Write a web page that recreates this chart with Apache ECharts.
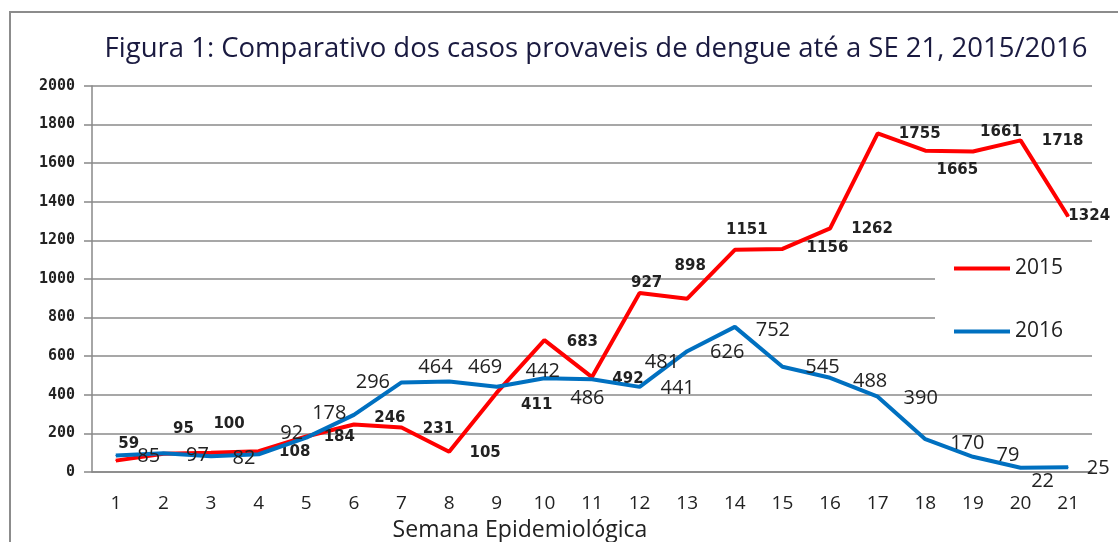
<!DOCTYPE html>
<html>
<head>
<meta charset="utf-8">
<script src="https://cdn.jsdelivr.net/npm/echarts@6/dist/echarts.min.js"></script>
<style>
html,body{margin:0;padding:0;background:#fff;}
#c{width:1118px;height:542px;}
</style>
</head>
<body>
<div id="c"></div>
<script>
const weeks = ['1','2','3','4','5','6','7','8','9','10','11','12','13','14','15','16','17','18','19','20','21'];
const cases2015 = [59,95,100,108,184,246,231,105,411,683,492,927,898,1151,1156,1262,1755,1665,1661,1718,1324];
const cases2016 = [85,97,82,92,178,296,464,469,442,486,481,441,626,752,545,488,390,170,79,22,25];
const yTicks = [0,200,400,600,800,1000,1200,1400,1600,1800,2000];
const titleText = 'Figura 1: Comparativo dos casos provaveis de dengue até a SE 21, 2015/2016';
const xName = 'Semana Epidemiológica';

// data-label nudges in pixels (style only, as in the original Excel chart)
const nudge2015 = [[13,-17],[20,-25],[18,-29],[36,1],[33,1],[36,-6],[37,2],[36,1],[40,12],[38,2],[36,2],
                   [7,-10],[3,-33],[12,-20],[45,-1],[42,1],[42,1],[32,19],[28,-19],[42,1],[21,0]];
const nudge2016 = [[33,1],[34,2],[33,2],[33,-21],[23,-24],[19,-33],[34,-15],[36,-14],[46,-15],[43,20],[70,-17],
                   [38,1],[40,1],[38,3],[40,0],[40,3],[43,2],[42,4],[35,-1],[22,14],[30,1]];

const chart = echarts.init(document.getElementById('c'));
chart.setOption({
  animation: false,
  backgroundColor: '#fff',
  title: {
    text: titleText,
    left: 591, textAlign: 'center', top: 30,
    textStyle: {fontFamily: 'Open Sans', fontSize: 27.5, fontWeight: 'normal', color: '#1a1a40'}
  },
  graphic: [{
    type: 'rect', shape: {x: 10, y: 12, width: 1130, height: 560},
    style: {fill: 'none', stroke: '#8c8c8c', lineWidth: 2}, z: -1
  }],
  grid: {left: 92, right: 26, top: 86, bottom: 70, outerBoundsMode: 'none'},
  legend: {
    orient: 'vertical', left: 935, top: 248,
    itemGap: 42, itemWidth: 56, itemHeight: 4,
    padding: [10, 40, 8, 19],
    backgroundColor: '#fff',
    textStyle: {fontFamily: 'Open Sans', fontSize: 21, color: '#222'},
    data: [{name: '2015', icon: 'rect'}, {name: '2016', icon: 'rect'}]
  },
  xAxis: {
    type: 'category', data: weeks, boundaryGap: true,
    name: xName, nameLocation: 'middle', nameGap: 47,
    nameTextStyle: {fontFamily: 'Open Sans', fontSize: 23, color: '#222', padding: [0, 144, 0, 0]},
    axisLine: {lineStyle: {color: '#888', width: 1.5}},
    axisTick: {alignWithLabel: false, length: 8, lineStyle: {color: '#888', width: 1.5}},
    axisLabel: {fontFamily: 'Open Sans', fontSize: 19, color: '#222', margin: 22}
  },
  yAxis: {
    type: 'value', min: 0, max: 2000, interval: 200,
    axisLine: {show: true, lineStyle: {color: '#888', width: 1.5}},
    axisTick: {show: true, length: 8, lineStyle: {color: '#888', width: 1.5}},
    splitLine: {lineStyle: {color: '#8a8a8a', width: 1.5}},
    axisLabel: {fontFamily: 'DejaVu Sans Mono', fontSize: 15, fontWeight: 'bold', color: '#222', margin: 17,
      formatter: v => yTicks.includes(v) ? String(v) : ''}
  },
  series: [
    {
      name: '2015', type: 'line', data: cases2015, symbol: 'circle', symbolSize: 1, showSymbol: true,
      lineStyle: {color: '#ff0000', width: 4}, itemStyle: {color: '#ff0000'},
      label: {show: true, position: 'inside', align: 'center', verticalAlign: 'middle',
        fontFamily: 'DejaVu Sans', fontWeight: 'bold', fontSize: 15, color: '#222'},
      labelLayout: p => ({dx: nudge2015[p.dataIndex][0], dy: nudge2015[p.dataIndex][1], hideOverlap: false}),
      z: 3
    },
    {
      name: '2016', type: 'line', data: cases2016, symbol: 'circle', symbolSize: 1, showSymbol: true,
      lineStyle: {color: '#0070c0', width: 4}, itemStyle: {color: '#0070c0'},
      label: {show: true, position: 'inside', align: 'center', verticalAlign: 'middle',
        fontFamily: 'Open Sans', fontSize: 20, color: '#222'},
      labelLayout: p => ({dx: nudge2016[p.dataIndex][0], dy: nudge2016[p.dataIndex][1], hideOverlap: false}),
      z: 4
    }
  ]
});
</script>
</body>
</html>
